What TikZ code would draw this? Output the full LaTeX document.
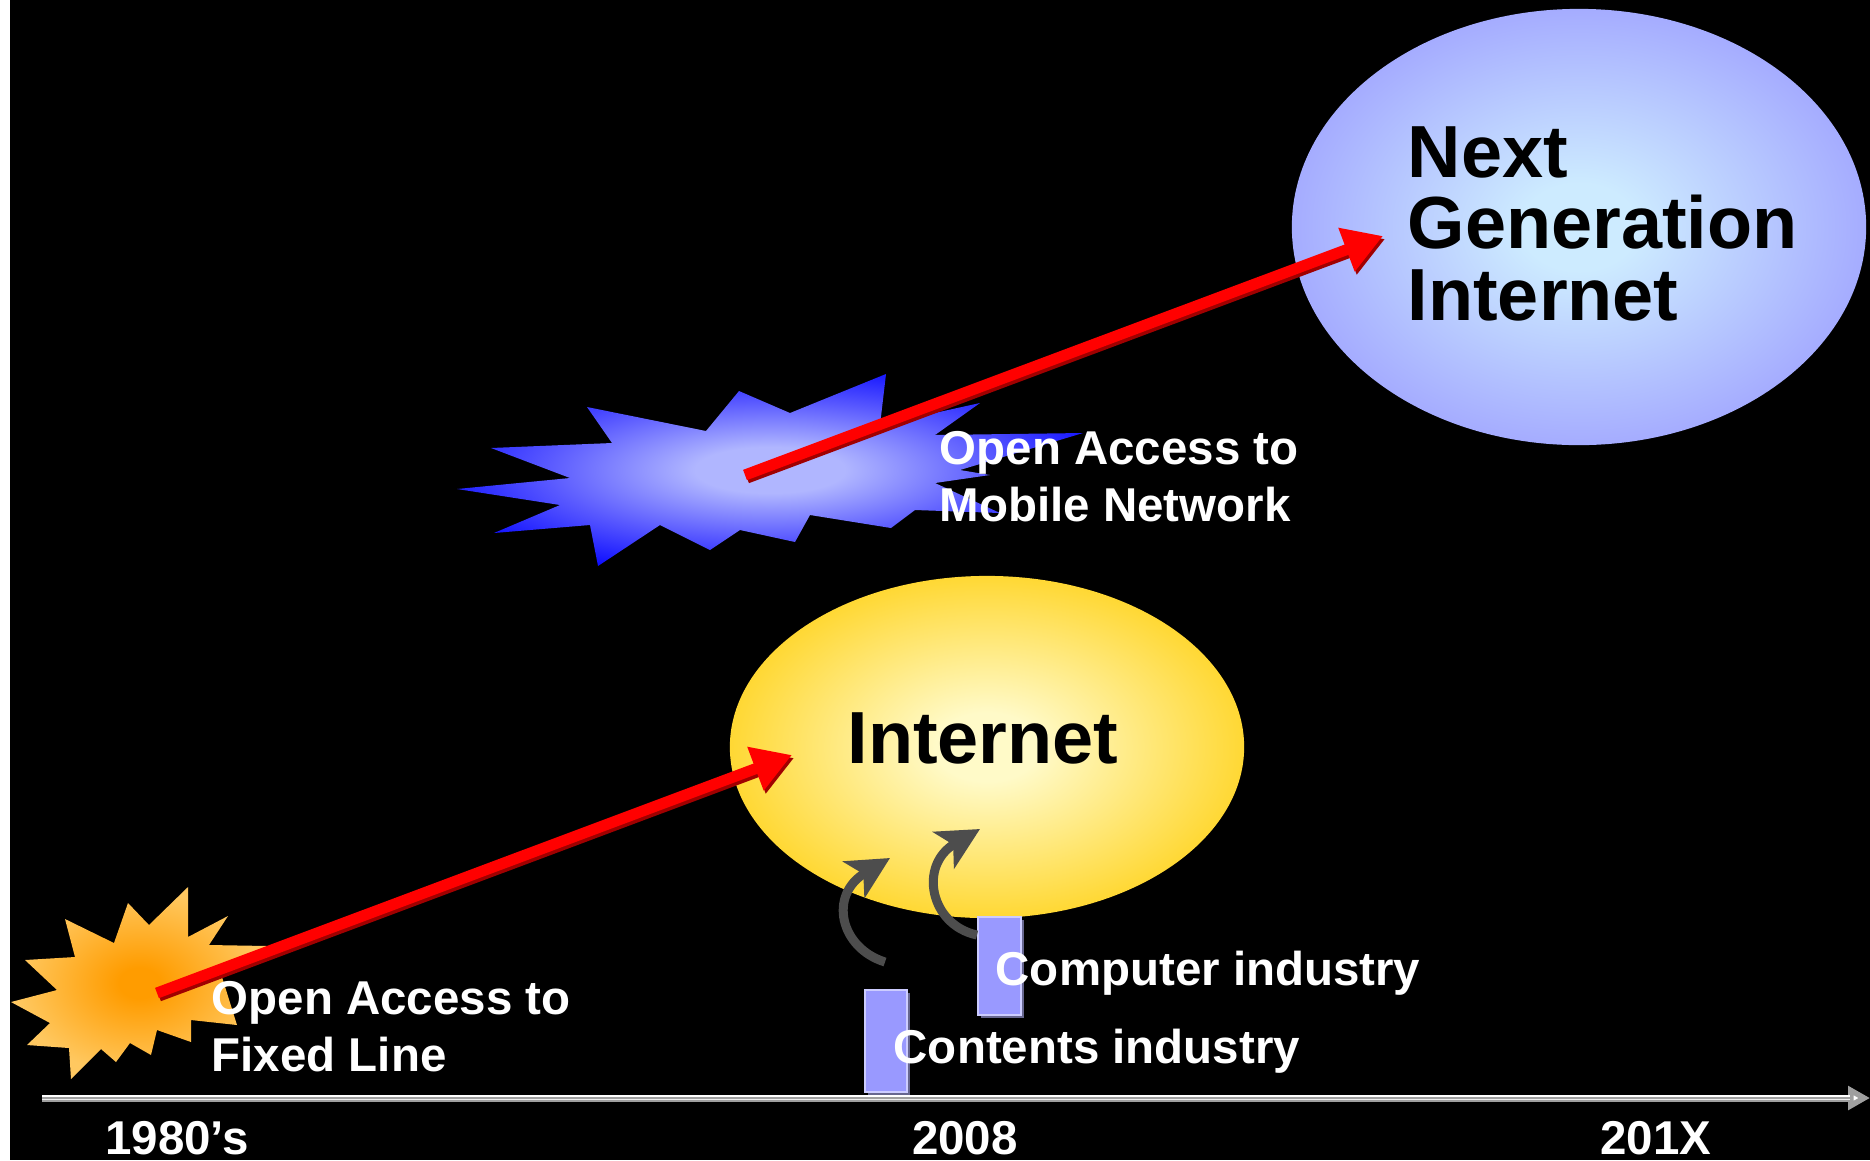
\documentclass[tikz,border=0pt]{standalone}
\usepackage{fontspec}
\setmainfont{Liberation Sans}
\usetikzlibrary{shapes.geometric,arrows.meta,shadows}

\definecolor{ngiedge}{HTML}{9999FF}
\definecolor{ngicore}{HTML}{CDEBFF}
\definecolor{inetedge}{HTML}{FFCC00}
\definecolor{inetcore}{HTML}{FFFAC8}
\definecolor{bluetip}{HTML}{0000FF}
\definecolor{bluemid}{HTML}{5858FF}
\definecolor{bluecore}{HTML}{B0B6FF}
\definecolor{orangetip}{HTML}{FFC860}
\definecolor{orangecore}{HTML}{FF9C00}
\definecolor{barfill}{HTML}{9999FF}
\definecolor{barlight}{HTML}{CCCCFF}
\definecolor{barshade}{HTML}{66668F}
\definecolor{curvegray}{HTML}{4D4D4D}
\definecolor{darkred}{HTML}{A00000}

\pgfdeclareradialshading{ngiglow}{\pgfpoint{0bp}{0bp}}{color(0bp)=(ngicore); color(5bp)=(ngicore); color(31bp)=(ngiedge); color(50bp)=(ngiedge)}
\pgfdeclareradialshading{inetglow}{\pgfpoint{0bp}{0bp}}{color(0bp)=(inetcore); color(5bp)=(inetcore); color(32bp)=(inetedge); color(50bp)=(inetedge)}
\pgfdeclareradialshading{blueburst}{\pgfpoint{0bp}{0bp}}{color(0bp)=(bluecore); color(6bp)=(bluecore); color(18bp)=(bluemid); color(30bp)=(bluetip); color(50bp)=(bluetip)}
\pgfdeclareradialshading{orangeburst}{\pgfpoint{0bp}{0bp}}{color(0bp)=(orangecore); color(4bp)=(orangecore); color(24bp)=(orangetip); color(50bp)=(orangetip)}

\tikzset{
  bigtxt/.style={font=\fontsize{21}{20.3}\selectfont\bfseries, text=black, inner sep=0pt},
  smalltxt/.style={font=\fontsize{13.5}{16.2}\selectfont\bfseries, text=white, inner sep=0pt, align=left},
  yeartxt/.style={smalltxt, anchor=base},
  bubble/.style={ellipse, inner sep=0pt, shade},
  redarrow/.style={draw=red, line width=0.11cm, -{Triangle[length=0.39cm,width=0.44cm]}},
  redshadow/.style={redarrow, draw=darkred},
  bendarrow/.style={draw=curvegray, line width=0.09cm, -{Stealth[length=0.42cm,width=0.42cm,inset=0.11cm]}},
  bar/.style={rectangle, fill=barfill, draw=barlight, line width=0.02cm, inner sep=0pt,
    drop shadow={shadow xshift=0.03cm, shadow yshift=-0.03cm, fill=barshade, opacity=1}},
  timeline/.style={draw=gray!75, line width=0.07cm, -{Triangle[length=0.22cm,width=0.23cm,fill=white]}}
}

\begin{document}
\begin{tikzpicture}[x=0.01cm, y=-0.01cm]
  \useasboundingbox (0,0) rectangle (1870,1160);
  \fill[white] (0,0) rectangle (10,1160);
  \fill[black] (10,0) rectangle (1870,1160);

  % bubbles
  \node[bubble, shading=ngiglow, minimum width=5.74cm, minimum height=4.36cm] (ngi) at (1579,227) {};
  \node[bubble, shading=inetglow, minimum width=5.14cm, minimum height=3.42cm] (inet) at (987,747) {};

  % bursts
  \shade[shading=orangeburst] (188,887) -- (188,937) -- (228,916) -- (209,945) -- (268,946) -- (222,977)
    -- (237,1025) -- (191,1020) -- (191,1042) -- (157,1030) -- (151,1055) -- (130,1043) -- (116,1062)
    -- (101,1049) -- (71,1079) -- (69,1048) -- (27,1045) -- (50,1023) -- (11,1002) -- (57,990)
    -- (25,960) -- (75,957) -- (65,919) -- (114,943) -- (128,903) -- (149,925) -- cycle;
  \shade[shading=blueburst] (457,489) -- (570,478) -- (491,448) -- (612,443) -- (587,407) -- (706,431)
    -- (739,391) -- (790,413) -- (886,374) -- (880,425) -- (980,403) -- (935,435) -- (1083,433)
    -- (960,470) -- (990,475) -- (935,483) -- (1000,513) -- (915,510) -- (891,528) -- (810,515)
    -- (795,542) -- (740,530) -- (710,550) -- (660,525) -- (598,566) -- (590,525) -- (494,533)
    -- (560,505) -- cycle;

  \coordinate (fixed) at (157,993);
  \coordinate (mobile) at (745,475);
  \coordinate (inethit) at (792,755);
  \coordinate (ngihit) at (1383,236);

  \foreach \from/\to in {fixed/inethit, mobile/ngihit}{
    \draw[redshadow] ([shift={(2,3)}]\from) -- ([shift={(2,3)}]\to);
    \draw[redarrow] (\from) -- (\to);
  }

  % industries
  \node[bar, minimum width=0.42cm, minimum height=1.01cm] (contbar) at (886,1041) {};
  \node[bar, minimum width=0.43cm, minimum height=0.98cm] (compbar) at (999,966) {};
  \coordinate (conttail) at (885,962);
  \coordinate (comptail) at (977,935);
  \coordinate (conthead) at (890,858);
  \coordinate (comphead) at (980,829);
  \draw[bendarrow] (conttail) .. controls (840,948) and (828,895) .. (conthead);
  \draw[bendarrow] (comptail) .. controls (930,925) and (918,865) .. (comphead);

  \node[bigtxt, anchor=base] (inettxt) at (983,763) {Internet};
  \node[bigtxt, anchor=north west, align=left] (ngitxt) at (1407,126) {Next\\Generation\\Internet};
  \node[smalltxt, anchor=north west] (fixedtxt) at (211,981) {Open Access to\\Fixed Line};
  \node[smalltxt, anchor=north west] (mobiletxt) at (939,431) {Open Access to\\Mobile Network};
  \node[smalltxt, anchor=base west] (comptxt) at (995,985) {Computer industry};
  \node[smalltxt, anchor=base west] (conttxt) at (893,1063) {Contents industry};

  % time axis
  \coordinate (tl0) at (42,1098);
  \coordinate (tlend) at (1850,1098);
  \coordinate (tl1) at (1870,1098);
  \draw[timeline] (tl0) -- (tl1);
  \draw[white, line width=0.014cm] ([yshift=0.02cm]tl0) -- ([yshift=0.02cm]tlend);
  \draw[white!85!gray, line width=0.012cm] ([yshift=-0.015cm]tl0) -- ([yshift=-0.015cm]tlend);

  \foreach \pos/\name/\yr in {{(177,1154)/yeara/1980’s}, {(965,1154)/yearb/2008}, {(1656,1154)/yearc/201X}}
    \node[yeartxt] (\name) at \pos {\yr};
\end{tikzpicture}
\end{document}
